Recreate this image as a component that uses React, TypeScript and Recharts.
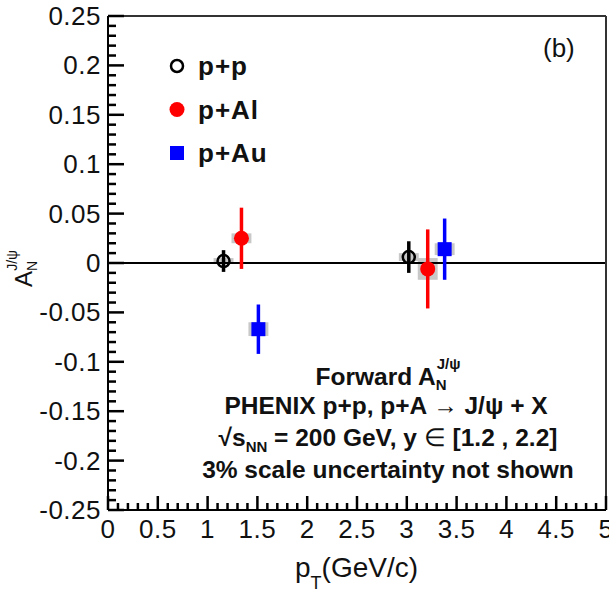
import React from "react";
import {
  ComposedChart,
  Scatter,
  XAxis,
  YAxis,
  ErrorBar,
  ReferenceLine,
  ReferenceArea,
  Legend,
} from "recharts";

// A_N values
const ppX = [1.16, 3.02];
const ppY = [0.002, 0.006];
const ppErr = [0.011, 0.016];
const ppSys = [0.003, 0.004];

const alX = [1.34, 3.21];
const alY = [0.025, -0.006];
const alErr = [0.031, 0.04];
const alSys = [0.005, 0.011];

const auX = [1.51, 3.38];
const auY = [-0.067, 0.014];
const auErr = [0.025, 0.031];
const auSys = [0.007, 0.006];

const sysHalfWidth = 0.1;

const xTicks = Array.from({ length: 51 }, (_, i) => i / 10);
const yTicks = Array.from({ length: 51 }, (_, i) => (i - 25) / 100);

const FONT = "'Liberation Sans', Arial, Helvetica, sans-serif";

const toRows = (xs: number[], ys: number[], errs: number[], sys: number[]) =>
  xs.map((x, i) => ({ x, y: ys[i], err: errs[i], sys: sys[i] }));

const ppData = toRows(ppX, ppY, ppErr, ppSys);
const alData = toRows(alX, alY, alErr, alSys);
const auData = toRows(auX, auY, auErr, auSys);

const series = [
  { name: "p+p", data: ppData, color: "#000000" },
  { name: "p+Al", data: alData, color: "#ff0000" },
  { name: "p+Au", data: auData, color: "#0000ff" },
];

function Marker({ name, cx, cy }: { name: string; cx: number; cy: number }) {
  if (name === "p+p")
    return <circle cx={cx} cy={cy} r={6} fill="none" stroke="#000" strokeWidth={2.5} />;
  if (name === "p+Al") return <circle cx={cx} cy={cy} r={7.5} fill="#ff0000" />;
  return <rect x={cx - 7} y={cy - 7} width={14} height={14} fill="#0000ff" />;
}

const XTick = (props: any) => {
  const { x, y, payload } = props;
  const v = payload.value;
  const major = Math.round(v * 10) % 5 === 0;
  return (
    <g>
      <path d={`M${x},${y}V${y - (major ? 14 : 7)}`} stroke="#000" strokeWidth={2.5} />
      {major && (
        <text x={x} y={y + 28} textAnchor="middle" fontSize={26} fontFamily={FONT} fill="#111" letterSpacing={0.5}>
          {String(Number(v.toFixed(1)))}
        </text>
      )}
    </g>
  );
};

const YTick = (props: any) => {
  const { x, y, payload } = props;
  const v = payload.value;
  const major = Math.round(v * 100) % 5 === 0;
  return (
    <g>
      <path d={`M${x},${y}H${x + (major ? 16 : 8)}`} stroke="#000" strokeWidth={2.5} />
      {major && (
        <text x={x - 7} y={y + 9} textAnchor="end" fontSize={26} fontFamily={FONT} fill="#111" letterSpacing={0.5}>
          {String(Number(v.toFixed(2)))}
        </text>
      )}
    </g>
  );
};

const renderLegend = () => (
  <svg width={140} height={130}>
    {series.map((s, i) => (
      <g key={s.name}>
        <Marker name={s.name} cx={17} cy={21 + i * 43.5} />
        <text
          x={38}
          y={30 + i * 43.5}
          fontSize={26}
          fontWeight="bold"
          fontFamily={FONT}
          fill="#111"
          letterSpacing={1}
        >
          {s.name}
        </text>
      </g>
    ))}
  </svg>
);

export default function App() {
  return (
    <div style={{ position: "absolute", left: 0, top: 0, width: 609, height: 595, background: "#fff" }}>
      <ComposedChart
        width={609}
        height={595}
        margin={{ top: 15, right: 2, bottom: 0, left: 0 }}
      >
        <XAxis
          xAxisId="t"
          orientation="top"
          type="number"
          domain={[0, 5]}
          height={1}
          tick={false}
          tickLine={false}
          axisLine={{ stroke: "#333", strokeWidth: 2 }}
        />
        <XAxis
          xAxisId="b"
          type="number"
          dataKey="x"
          domain={[0, 5]}
          ticks={xTicks}
          interval={0}
          height={85}
          tickSize={0}
          tickMargin={0}
          tickLine={false}
          axisLine={{ stroke: "#000", strokeWidth: 2 }}
          tick={XTick}
        />
        <YAxis
          yAxisId="l"
          type="number"
          dataKey="y"
          domain={[-0.25, 0.25]}
          ticks={yTicks}
          interval={0}
          width={108}
          tickSize={0}
          tickMargin={0}
          tickLine={false}
          axisLine={{ stroke: "#000", strokeWidth: 2 }}
          tick={YTick}
        />
        <YAxis
          yAxisId="r"
          orientation="right"
          type="number"
          domain={[-0.25, 0.25]}
          width={1}
          tick={false}
          tickLine={false}
          axisLine={{ stroke: "#333", strokeWidth: 2 }}
        />
        {series.flatMap((s) =>
          s.data.map((d, i) => (
            <ReferenceArea
              key={s.name + i}
              xAxisId="b"
              yAxisId="l"
              x1={d.x - sysHalfWidth}
              x2={d.x + sysHalfWidth}
              y1={d.y - d.sys}
              y2={d.y + d.sys}
              fill="#c8c8c8"
              fillOpacity={1}
              stroke="none"
            />
          ))
        )}
        <ReferenceLine xAxisId="b" yAxisId="l" y={0} stroke="#000" strokeWidth={2} />
        {series.map((s) => (
          <Scatter
            key={s.name}
            xAxisId="b"
            yAxisId="l"
            name={s.name}
            data={s.data}
            fill={s.color}
            isAnimationActive={false}
            shape={(p: any) => <Marker name={s.name} cx={p.cx} cy={p.cy} />}
          >
            <ErrorBar
              dataKey="err"
              direction="y"
              width={0}
              stroke={s.color}
              strokeWidth={3.5}
            />
          </Scatter>
        ))}
        <Legend
          layout="vertical"
          align="center"
          verticalAlign="middle"
          content={renderLegend}
          wrapperStyle={{ left: 160, top: 45, width: 140, height: 130 }}
        />
      </ComposedChart>
      <svg
        width={609}
        height={595}
        style={{ position: "absolute", left: 0, top: 0, pointerEvents: "none" }}
        fontFamily={FONT}
        fill="#111"
      >
        <text x={543} y={57} fontSize={26}>(b)</text>
        <g fontWeight="bold" fontSize={24.5} textAnchor="middle">
          <text x={388} y={385}>
            Forward A
            <tspan fontSize={15} dy={5}>N</tspan>
            <tspan fontSize={15} dx={-10} dy={-21}>J/ψ</tspan>
          </text>
          <text x={386} y={414}>
            PHENIX p+p, p+A <tspan fontWeight="normal">→</tspan> J/ψ + X
          </text>
          <text x={388} y={446}>
            √s<tspan fontSize={15} dy={6}>NN</tspan>
            <tspan dy={-6}> = 200 GeV,  y </tspan>
            <tspan fontWeight="normal">∈</tspan> [1.2 , 2.2]
          </text>
          <text x={388} y={478}>3% scale uncertainty not shown</text>
        </g>
        <g transform="translate(32 287) rotate(-90)">
          <text x={0} y={0} fontSize={24}>
            A<tspan fontSize={14} dy={5}>N</tspan>
            <tspan fontSize={14} dx={-10} dy={-20}>J/ψ</tspan>
          </text>
        </g>
        <text x={295} y={577} fontSize={28}>
          p<tspan fontSize={18} dy={12}>T</tspan>
          <tspan dy={-12}>(GeV/c)</tspan>
        </text>
      </svg>
    </div>
  );
}
